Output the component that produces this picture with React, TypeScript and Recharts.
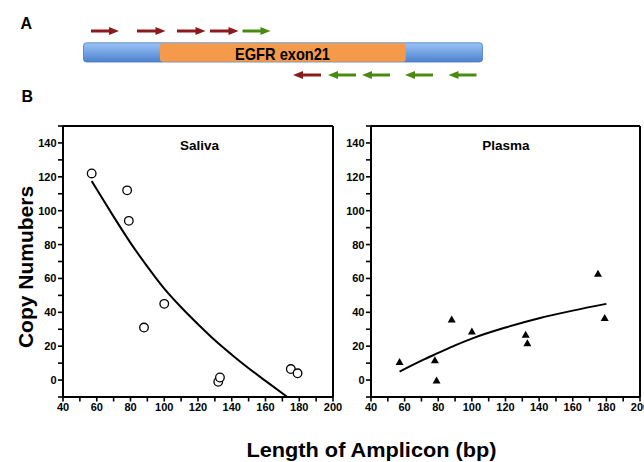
import React from "react";
import {
  ComposedChart,
  Scatter,
  Line,
  XAxis,
  YAxis,
  ReferenceLine,
} from "recharts";

// ---------- data ----------
const AMPLICON_BP = [57, 78, 79, 88, 100, 132, 133, 175, 179];
const SALIVA_COPIES = [122, 112, 94, 31, 45, -1, 1.5, 6.5, 4];
const PLASMA_COPIES = [11, 12, 0, 36, 29, 27, 22, 63, 37];

const SALIVA_FIT_X = [57, 65, 70, 80, 90, 100, 110, 120, 130, 140, 150, 160, 173];
const SALIVA_FIT_Y = [117.5, 104.5, 96.5, 81, 67, 54, 43, 33, 23.5, 15, 7, -0.5, -10];
const PLASMA_FIT_X = [57, 70, 80, 90, 100, 120, 140, 160, 180];
const PLASMA_FIT_Y = [5, 11.5, 16, 20.5, 24.5, 31, 36.5, 41, 45];

const X_TICKS = [40, 50, 60, 70, 80, 90, 100, 110, 120, 130, 140, 150, 160, 170, 180, 190, 200];
const Y_TICKS = [-10, 0, 10, 20, 30, 40, 50, 60, 70, 80, 90, 100, 110, 120, 130, 140, 150];
const X_LABELS = [40, 60, 80, 100, 120, 140, 160, 180, 200];
const Y_LABELS = [0, 20, 40, 60, 80, 100, 120, 140];

const PANEL_TITLES = ["Saliva", "Plasma"];

// ---------- style ----------
const FONT = "'Liberation Sans', Arial, Helvetica, sans-serif";
const DARK_RED = "#8a1a1c";
const GREEN = "#4b8a12";

const zip = (xs: number[], ys: number[]) => xs.map((x, i) => ({ x, y: ys[i] }));

const salivaPoints = zip(AMPLICON_BP, SALIVA_COPIES);
const plasmaPoints = zip(AMPLICON_BP, PLASMA_COPIES);
const salivaFit = zip(SALIVA_FIT_X, SALIVA_FIT_Y);
const plasmaFit = zip(PLASMA_FIT_X, PLASMA_FIT_Y);

const YTick = (props: any) => {
  const { x, y, payload } = props;
  const v = payload.value;
  if (!Y_LABELS.includes(v)) return <g />;
  return (
    <text
      x={x}
      y={y}
      dy="0.36em"
      textAnchor="end"
      fontFamily={FONT}
      fontWeight="bold"
      fontSize={11}
      fill="#000"
    >
      {v}
    </text>
  );
};

const XTick = (props: any) => {
  const { x, y, payload } = props;
  const v = payload.value;
  if (!X_LABELS.includes(v)) return <g />;
  return (
    <text
      x={x}
      y={y}
      dy="0.8em"
      textAnchor="middle"
      fontFamily={FONT}
      fontWeight="bold"
      fontSize={11}
      fill="#000"
    >
      {v}
    </text>
  );
};

const OpenCircle = (props: any) => {
  const { cx, cy } = props;
  return <circle cx={cx} cy={cy} r={4.3} fill="#fff" stroke="#000" strokeWidth={1.3} />;
};

const FilledTriangle = (props: any) => {
  const { cx, cy } = props;
  const h = 7;
  const w = 8;
  return (
    <polygon
      points={`${cx},${cy - h / 2} ${cx - w / 2},${cy + h / 2} ${cx + w / 2},${cy + h / 2}`}
      fill="#000"
    />
  );
};

type PanelProps = {
  points: { x: number; y: number }[];
  fit: { x: number; y: number }[];
  shape: any;
  width: number;
  marginRight: number;
};

const Panel = ({ points, fit, shape, width, marginRight }: PanelProps) => (
  <ComposedChart
    width={width}
    height={320}
    margin={{ top: 16, right: marginRight, bottom: 3, left: 0 }}
  >
    <XAxis
      type="number"
      dataKey="x"
      domain={[40, 200]}
      ticks={X_TICKS}
      interval={0}
      allowDataOverflow
      height={30}
      tickSize={4.5}
      tickMargin={1}
      tickLine={{ stroke: "#000", strokeWidth: 1.6 }}
      axisLine={{ stroke: "#000", strokeWidth: 2 }}
      tick={<XTick />}
    />
    <YAxis
      type="number"
      dataKey="y"
      domain={[-10, 150]}
      ticks={Y_TICKS}
      interval={0}
      allowDataOverflow
      width={63}
      tickSize={5}
      tickMargin={1.5}
      tickLine={{ stroke: "#000", strokeWidth: 1.6 }}
      axisLine={{ stroke: "#000", strokeWidth: 2 }}
      tick={<YTick />}
    />
    <ReferenceLine y={150} stroke="#000" strokeWidth={2} ifOverflow="visible" />
    <ReferenceLine x={200} stroke="#000" strokeWidth={2} ifOverflow="visible" />
    <Line
      data={fit}
      dataKey="y"
      type="monotone"
      stroke="#000"
      strokeWidth={2}
      dot={false}
      activeDot={false}
      isAnimationActive={false}
    />
    <Scatter data={points} dataKey="y" shape={shape} isAnimationActive={false} />
  </ComposedChart>
);

const Arrow = ({ x1, x2, y, color }: { x1: number; x2: number; y: number; color: string }) => {
  const dir = x2 > x1 ? 1 : -1;
  const headLen = 10;
  const half = 4;
  const base = x2 - dir * headLen;
  return (
    <g>
      <line x1={x1} x2={base + dir * 1} y1={y} y2={y} stroke={color} strokeWidth={3} />
      <polygon points={`${x2},${y} ${base},${y - half} ${base},${y + half}`} fill={color} />
    </g>
  );
};

const TOP_ARROWS = [
  { x1: 91, x2: 119, c: DARK_RED },
  { x1: 137, x2: 165.5, c: DARK_RED },
  { x1: 177, x2: 205.5, c: DARK_RED },
  { x1: 210, x2: 238.5, c: DARK_RED },
  { x1: 242.5, x2: 270.5, c: GREEN },
];
const BOTTOM_ARROWS = [
  { x1: 321, x2: 293, c: DARK_RED },
  { x1: 356, x2: 328, c: GREEN },
  { x1: 390, x2: 362, c: GREEN },
  { x1: 433, x2: 405, c: GREEN },
  { x1: 476.5, x2: 448.5, c: GREEN },
];

export default function App() {
  return (
    <div
      style={{
        position: "absolute",
        left: 0,
        top: 0,
        width: 644,
        height: 462,
        background: "#fff",
        overflow: "hidden",
      }}
    >
      <div style={{ position: "absolute", left: 0, top: 110 }}>
        <Panel points={salivaPoints} fit={salivaFit} shape={OpenCircle} width={345} marginRight={12} />
      </div>
      <div style={{ position: "absolute", left: 308, top: 110 }}>
        <Panel points={plasmaPoints} fit={plasmaFit} shape={FilledTriangle} width={336} marginRight={4} />
      </div>
      <svg
        width={644}
        height={462}
        style={{ position: "absolute", left: 0, top: 0, pointerEvents: "none" }}
      >
        <defs>
          <linearGradient id="blueBar" x1="0" y1="0" x2="0" y2="1">
            <stop offset="0%" stopColor="#9cc3f5" />
            <stop offset="100%" stopColor="#4d82d0" />
          </linearGradient>
        </defs>
        <text x={20.5} y={28.5} fontFamily={FONT} fontWeight="bold" fontSize={16} fill="#000">
          A
        </text>
        <text x={21.5} y={101.5} fontFamily={FONT} fontWeight="bold" fontSize={16} fill="#000">
          B
        </text>
        {TOP_ARROWS.map((a, i) => (
          <Arrow key={"t" + i} x1={a.x1} x2={a.x2} y={31} color={a.c} />
        ))}
        <rect x={83.5} y={42.8} width={399} height={19.2} rx={3} fill="url(#blueBar)" stroke="#4a7cc4" strokeWidth={0.8} />
        <rect x={160} y={43.3} width={245.7} height={18.4} rx={3} fill="#f59a4b" />
        <text
          x={282.5}
          y={59.5}
          textAnchor="middle"
          fontFamily={FONT}
          fontWeight="bold"
          fontSize={17}
          fill="#000"
          textLength={95}
          lengthAdjust="spacingAndGlyphs"
        >
          EGFR exon21
        </text>
        {BOTTOM_ARROWS.map((a, i) => (
          <Arrow key={"b" + i} x1={a.x1} x2={a.x2} y={75} color={a.c} />
        ))}
        <text x={199.5} y={149.5} textAnchor="middle" fontFamily={FONT} fontWeight="bold" fontSize={13.5} fill="#000">
          {PANEL_TITLES[0]}
        </text>
        <text x={506} y={149.5} textAnchor="middle" fontFamily={FONT} fontWeight="bold" fontSize={13.5} fill="#000">
          {PANEL_TITLES[1]}
        </text>
        <text
          transform="translate(33,267) rotate(-90)"
          textAnchor="middle"
          fontFamily={FONT}
          fontWeight="bold"
          fontSize={21}
          fill="#000"
        >
          Copy Numubers
        </text>
        <text
          x={371.5}
          y={456.5}
          textAnchor="middle"
          fontFamily={FONT}
          fontWeight="bold"
          fontSize={21}
          fill="#000"
          textLength={250}
          lengthAdjust="spacingAndGlyphs"
        >
          Length of Amplicon (bp)
        </text>
      </svg>
    </div>
  );
}
